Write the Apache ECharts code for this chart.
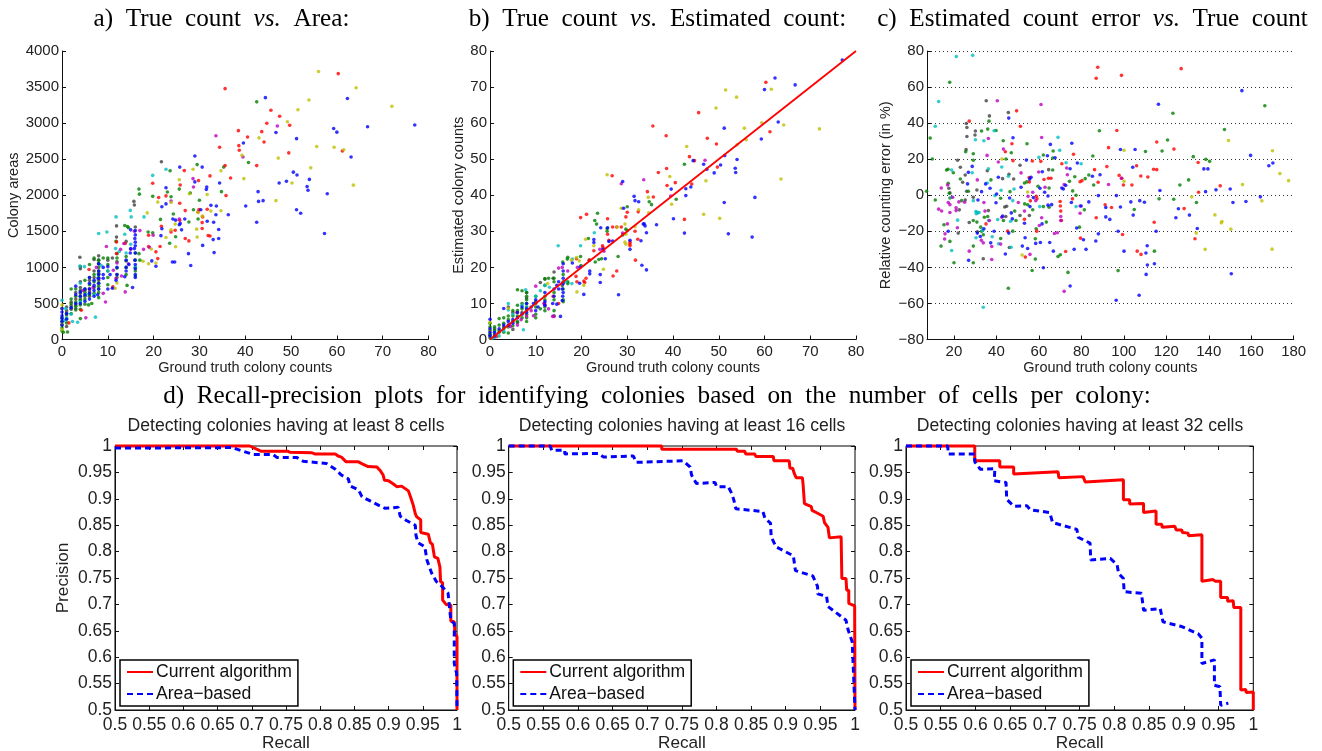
<!DOCTYPE html>
<html><head><meta charset="utf-8">
<script src="https://cdn.jsdelivr.net/npm/echarts@6/dist/echarts.min.js"></script>
<style>html,body{margin:0;padding:0;background:#fff}#c{width:1322px;height:751px}</style>
</head><body><div id="c"></div>
<script>
// Panel a: true count vs area
const aBlue=[[44.4,3353],[62.3,3342],[77,2975],[66.7,2950],[59.3,2925],[60,2875],[46.7,2870],[51.2,2785],[39.6,2725],[63.1,2530],[29,2545],[25.7,2390],[30.6,2390],[50.5,2320],[51.3,2280],[54,2220],[49,2195],[47.4,2170],[34.4,2170],[29,2185],[22.7,2105],[31.6,2115],[31.5,2080],[53.5,2120],[53.7,2070],[42.8,2050],[57.9,2020],[42.9,1915],[43.9,1925],[40.1,1850],[21.8,1840],[32.5,1860],[33.7,1850],[22.7,1880],[51.2,1800],[52.1,1750],[30.3,1800],[33.6,1730],[36.3,1730],[42.5,1625],[24.2,1670],[24.8,1655],[26.8,1670],[25.6,1590],[25.8,1610],[31.7,1640],[33.1,1625],[34.2,1525],[26.1,1520],[21.8,1535],[21.6,1440],[57.3,1470],[34.2,1400],[33,1385],[30.7,1305],[33.2,1205],[27.6,1190],[24.1,1075],[24.6,1075],[28.1,1025],[20.5,1015],[19.6,1090],[16,1510],[16,1450],[15.9,1400],[16,1350],[16,1300],[15.8,1260],[16,1200],[15.9,1100],[16,1040],[16,980],[16,900],[16,860],[15.4,720],[15,1520],[15,1260],[14.9,1200],[14.6,1040],[14,1100],[14,1000],[14,950],[13.7,870],[12,1000],[12,900],[11.8,820],[10.5,900],[10,1010],[9,1000],[9,900],[9,850],[8,1050],[8,950],[8,900],[8,850],[8,780],[8,700],[7.8,620],[7,820],[7,750],[7,680],[7,600],[6,860],[6,780],[6,700],[6,640],[6,560],[5,700],[5,620],[5,530],[4,660],[4,600],[4,500],[3,740],[3,620],[3,500],[2,440],[1,360],[1,280],[0,430],[0,380],[0,330],[0,290],[0,250],[0,200],[10,700],[11,710]];
const aGreen=[[42.5,3295],[40.7,2455],[23.6,2340],[29.5,2425],[35.3,2390],[16.8,2085],[16.9,2015],[19.8,1985],[34.8,2050],[28,2030],[25.6,2085],[23,2045],[23.8,1980],[30,1930],[28.7,1800],[24.3,1740],[21.5,1665],[29.7,1670],[27.7,1630],[13.7,1580],[14.3,1565],[18.8,1490],[19.8,1480],[24.8,1425],[23.5,1335],[11.8,1360],[8,1100],[8,1050],[8,1000],[8,950],[8,900],[8,860],[8,820],[8,780],[8,740],[8,700],[8,650],[8,580],[7,1130],[7,900],[7,800],[7,720],[7,640],[6,1040],[6,860],[6,760],[6,700],[6,620],[5,820],[5,700],[5,650],[5,560],[5,490],[4,680],[4,600],[4,540],[4,480],[4,420],[4,290],[3,700],[3,600],[3,520],[3,460],[3,410],[2,700],[2,560],[2,500],[2,440],[2,360],[1,360],[1,290],[1,230],[1.2,105],[0,300],[0,250],[0,200],[0,160],[0,120],[0.3,100],[10,1130],[10,1040],[10,950],[10,860],[10,760],[12,1190],[12,1130],[12,1080],[12,990],[12,900],[12,860],[14,1150],[14,1090],[14,1000],[14,900],[14.2,750],[16,1200],[16,1100],[16,1000],[16,950],[16,880],[17,1100],[16.8,1190],[14.5,1550],[9,1130],[6.5,500],[5.8,480]];
const aRed=[[35.6,3478],[60.3,3686],[45.6,3178],[47.5,3095],[44.7,2998],[49.7,2970],[38.5,2896],[43.6,2882],[40.5,2808],[44.1,2739],[38.6,2688],[34.4,2665],[38.7,2624],[49.5,2587],[61.2,2614],[42.5,2411],[35.6,2411],[36.8,2240],[32.3,2268],[26.7,2342],[29.8,2203],[19.8,2166],[25.8,2143],[22.7,1991],[21.1,1968],[35.8,1995],[25.7,1889],[26.9,1787],[29.9,1801],[31.7,1806],[29.7,1769],[30.7,1700],[30.6,1621],[21.7,1570],[30.6,1538],[24.7,1515],[23.8,1492],[25.7,1654],[31.9,1441],[32.3,1436],[18.9,1446],[26.9,1400],[27.7,1367],[21.4,1289],[18.9,1289],[20.5,1215],[20.9,1122],[13.8,1330],[11.9,1353],[11.9,1192],[5.9,970],[4.2,406],[11.1,730],[1.5,230]];
const aCyan=[[22.7,2360],[19.8,2275],[11.8,1700],[14.9,1790],[15.1,1700],[17.9,1700],[8,1470],[9.8,1490],[13.7,1460],[7.3,310],[3.4,240],[2.3,250],[0,545],[0.8,430],[3.9,1020],[4,780],[4.9,1010],[11.7,1260],[12.5,1220],[10,950],[7.8,850],[7,620],[5.2,620],[4,520],[2,350],[1,300],[0.5,260],[14,1200],[15,1320],[16,1000],[8.5,1030]];
const aMagenta=[[33.6,2825],[47,2960],[39.5,2530],[28.6,2230],[28.7,2115],[23.8,1920],[25.6,1670],[19.9,1445],[19.1,1275],[15.8,1500],[17,1510],[17.8,1250],[9.7,1290],[9.5,520],[5.2,300],[13.8,660],[13.5,1330],[12.8,1250],[15,1250],[11.8,850],[11.2,960],[13,880],[9,640],[6.8,720],[7.5,1000],[8,840],[14.5,1050],[12,1060],[6,700],[4.5,680]];
const aYellow=[[56,3715],[64.2,3490],[72,3235],[53.9,3320],[51.5,3185],[49.2,3020],[43,2795],[39.3,2555],[55.6,2675],[59.4,2665],[61.5,2630],[47.2,2515],[54.3,2380],[34.7,2340],[39.7,2230],[50.2,2170],[25.6,2215],[28.6,2360],[63.6,2140],[31.7,2010],[27.8,2020],[46.7,1925],[20.9,1905],[23.8,1900],[18.6,1755],[32.5,1780],[34.7,1785],[30.6,1710],[29.7,1760],[24.7,1600],[23.8,1520],[29.4,1530],[29.5,1420],[22.7,1415],[24.8,1285],[19.5,1255],[17.7,1085],[18.9,1050],[20.5,1060],[12,785],[11.6,710],[0,480],[0,430],[0,220],[0,140]];
const aGray=[[3.9,1140],[8,1160],[8,1100],[8,1050],[11.9,1575],[11.9,1420],[15.7,1915],[15.8,1865],[21.7,2465],[7,1110],[4,1010],[4,980],[4,800],[4,720],[4,640],[4,560],[3,650],[3,560],[3,480],[3,430],[2,520],[2,470],[2,420],[1,450],[1,400],[1,340],[1,180],[5,600],[5,680],[6,600],[6,660],[6,820],[7,950],[7,860],[10,1100],[11,1130],[16,1560],[8,920],[14,1360]];
// Panel b: true count vs estimated count
const bBlue=[[77,77.5],[62.3,72.5],[66.7,70.6],[60,69.3],[63,60.3],[51.2,58.6],[59.3,55.6],[44.4,49.6],[46.7,48.6],[47.4,47.2],[49,46.2],[50.4,48.4],[51.3,51],[53.6,47.5],[53.7,46.3],[54,49.9],[29,43.8],[42.8,41.8],[43.9,42.3],[42.8,39.9],[39.6,41.7],[40.1,33.5],[42.5,29.5],[51.2,38],[52.1,29.3],[57.3,28.4],[57.9,39.4],[31.5,39.7],[31.7,38.5],[32.5,38.2],[29.2,36.4],[33.7,32.1],[33.5,32],[33.9,31.5],[36.4,31.8],[30.6,27.5],[30.6,25],[33,27.4],[34.2,29.6],[24.2,31],[25.7,31],[22.7,27.7],[22.7,26.9],[26,27.2],[26.8,27.3],[24.7,25],[25.2,22.4],[21.8,19],[21.8,18.2],[24.1,18],[24.1,15.8],[20.5,12.5],[19.6,15.6],[19.7,20.1],[28.1,12.4],[33.2,20.6],[34.2,19.3],[18,21.2],[16,21],[16,19],[16,17],[16,15.5],[15.8,14],[16,13],[15.9,12],[15.8,10.8],[15.4,6.4],[15,14],[15,16],[14.6,15],[14,14],[14,12],[14.6,9.8],[13.7,10],[12,13],[12,10.5],[12,9.5],[10.5,9],[10,11],[10,8],[9.5,10],[9,9],[8,10],[8,8.5],[8,7.5],[7,7],[7,9],[6,6],[6,7.5],[5,5.5],[5,4.5],[4,5],[4,4],[3,8.6],[3,4],[2,3],[1,2],[0,5.6],[0,3],[0,2],[0,1],[1,1]];
const bGreen=[[42.5,48.6],[40.7,38.9],[35.3,37.4],[34.8,38.2],[30,36.8],[30,30.2],[23.5,35],[22.9,33],[23.3,32],[21.5,28],[25.6,30.8],[25.6,30],[23,21.5],[23.8,22.2],[24.4,22.4],[28,23],[29,29],[29.7,30.6],[17,22.8],[16.9,22.3],[19.8,23],[19.9,20.5],[15.9,21.5],[14,17],[12.8,17],[12,16.8],[14,16],[6,13.8],[7,13.5],[8,13],[8,12],[8,11],[8,10],[8,9],[8,8],[8,7],[8,6],[8,5],[7,10],[7,8.5],[7,6],[6,9.5],[6,8],[6,6.5],[6,5],[5,8],[5,6.5],[5,5],[5,3.8],[4,6.5],[4,5.5],[4,3.5],[4,1.8],[3,6],[3,4.5],[3,3],[3,2],[2,5.8],[2,4],[2,2.5],[1,3.5],[1,2.5],[1,1.5],[0,4.5],[0,3.5],[0,2.5],[0,1.5],[0,0.5],[10,12],[10,10],[10,9],[10,7],[10,6],[12,15],[12,12],[12,11],[12,8],[12,9],[14,13],[14,11],[14,8],[14,6.6],[16,16],[16,14],[16,11],[16,10.5],[16,18],[17,16],[17,15.5],[11,8.5]];
const bRed=[[60.3,71.3],[45.6,62.9],[35.6,59.2],[38.5,56.5],[47.5,55.8],[49.5,54.2],[43.6,50.7],[44.7,49.6],[38.6,47.4],[36.8,46.3],[26.7,45.4],[49.7,47.8],[38.7,42.7],[40.5,43.5],[44.1,43.1],[34.4,41],[35.7,39.5],[61.2,57.6],[42.5,33.3],[21.1,34.7],[19.8,33.8],[25.7,33.5],[30,35.3],[29.7,34],[32.4,35.4],[26.8,31.2],[27.7,31.2],[28.7,31.2],[30.6,26.5],[30.6,26],[31.7,30],[32.3,27.8],[30.6,27],[25.7,29.2],[26,27.5],[24.6,26],[24.7,25.5],[22.7,24.6],[26.9,17.6],[27.7,19],[31.8,22],[21,17],[20.5,16.2],[20.7,15.8],[18.8,17.5],[21.7,22],[18.9,22.4],[19,16],[11.9,10],[15,10],[13.8,12],[5.9,7.5],[4.2,4],[1.5,0.8]];
const bCyan=[[14.9,26],[22.8,29.6],[19.8,26],[18,22.3],[7.3,2.7],[7.8,13.8],[12,15],[4,10],[10,12],[8,9],[5,7],[4,8.2],[3,2.3],[2,1],[1,0.6],[0.5,0.3],[13,14.5],[11,13.5],[7,9.5],[16.6,16],[17.9,15.5]];
const bMagenta=[[33.6,44.3],[28.7,43.2],[47,49.7],[39.5,39.8],[29,29.5],[24,25],[24.9,24.5],[19.1,20],[15.8,20],[17,19],[13.7,6.4],[9.5,6.6],[12.8,8.5],[10,14.8],[14,6.4],[11.8,10],[9,8],[6.8,5.5],[15,19.8],[8,6.5],[12,9.6],[4.5,3.6],[6,4]];
const bYellow=[[61.5,69.4],[51.5,69.2],[53.9,67.2],[49.4,64.2],[59.4,60.1],[55.6,58.6],[64.2,59.5],[72,58.4],[56,55.4],[54,54],[43,53.5],[39.3,45.2],[25.6,45.7],[47.2,44],[63.6,44.5],[34.6,39.4],[28.7,36.4],[32.5,36],[34.7,35.1],[39.7,37.5],[46.7,34.7],[50.2,33.6],[27.8,31.2],[29.5,32],[29.7,29.2],[29.5,27],[29.7,26.4],[31.7,31.3],[20.9,27.8],[22.7,26],[24.8,19.5],[19.5,21.8],[20.5,15],[18.9,22.7],[17.8,22],[19,13.2],[12.6,15.5],[4,8.6],[0,4.8],[0,2.6]];
const bGray=[[21.7,22],[14,18.7],[12,16.8],[8,13],[13.8,17],[8,11.5],[7,7.5],[5,7.5],[4,9],[3,3.5],[2,2],[1,3],[1,0.8],[0,1.2],[5,2.8],[6,4.7],[10,10.5],[15.8,15],[11,15.8]];
// Panel c: relative error vs true count
const cBlue=[[155.6,58],[116.3,50.5],[45.8,42.8],[47.8,31.9],[75.5,28.8],[65.4,28.2],[98.4,25.4],[105.3,25.4],[159.7,22.1],[104.2,15.5],[67.6,20.8],[64,21.9],[168.3,16.4],[170.2,17.9],[137.7,14.6],[139.6,14.6],[78.1,17.9],[74.7,14.7],[88.8,11.4],[85.2,10.5],[56.3,10],[54.1,19.5],[28.6,16],[26.8,12.7],[26.4,6.3],[34.9,6.3],[40.9,10],[55.7,9],[61.6,13],[33,2],[31.3,-2.6],[37,3.9],[40.1,0.7],[39.8,-4.2],[46.2,-1.5],[51.6,4.4],[57.4,-1.3],[60.5,3.9],[62.7,1.7],[64.3,-0.4],[70.8,4],[71.5,3.5],[72.6,5.5],[75.3,-4],[79.9,-6],[88,-0.2],[83.5,-3.7],[91.5,-6.8],[96.5,-0.2],[98.4,-6.5],[103.3,-3.7],[107.5,-3],[109.7,-3.9],[117,2.6],[138.5,2],[143.4,3],[150.1,3.5],[151.4,-4],[157.5,-3.5],[164.3,-0.9],[125.7,-7.5],[124.5,-12.5],[130.9,-11],[134.6,-18.4],[104.4,-11],[93.4,-13.4],[91.5,-12],[88,-21.4],[77.8,-18.2],[97.3,-20],[115.2,-20],[111,-28],[110.4,-32],[111.1,-38.7],[110.5,-43.9],[114.4,-38],[107.2,-55.5],[96.4,-58.2],[74.7,-50.3],[150.6,-43.5],[100.1,-31],[86.8,-25.4],[82.2,-30],[76.6,-30],[81,-24.7],[66.8,-31],[65.1,-26.2],[62.1,-40.2],[60.7,-26.2],[58.5,-26.7],[54.7,-29.5],[53.5,-23.6],[52.2,-28.2],[53.2,-15.5],[61.5,-15.9],[47.5,-13.1],[47,-9.8],[45.8,-21],[44.2,-32.6],[42.9,-11.6],[37.3,-26.4],[38.9,-20],[34.1,-18.6],[32.4,-22.9],[31,-21],[26.9,-36.1],[17.3,-20],[66,-5.2],[64.3,-5.5],[55.8,-6.3]];
const cGreen=[[166.4,49.6],[123.1,45.5],[18,62.7],[8.8,31.7],[9.8,20.1],[7.1,2.2],[11.2,-2.6],[13.9,-28.2],[20,-37.4],[29.1,-37.4],[29.1,-28.2],[18.1,-25.6],[15.3,-16.4],[16.5,14],[17.2,14.4],[17.3,6.6],[17.8,1.1],[18.1,-1.5],[19.7,12.5],[23,9],[25.5,24.1],[29.1,23],[29.1,19.4],[35.9,36.7],[33,35.6],[36.5,41.1],[39.8,35.9],[43.2,30.2],[44.5,20.1],[47,23.6],[54.4,28.6],[62.1,22.3],[66.7,24.5],[66.5,20.6],[88.5,35.8],[85.4,21.8],[110.2,24.3],[118,24.5],[120.6,30.6],[147.4,36.5],[132.7,21.4],[138.6,19.9],[140.4,18.8],[126.4,5.7],[130.5,8.5],[85.8,5.7],[83.5,11.2],[81.8,9.2],[76.9,10.3],[74.4,7.7],[75.9,2.4],[77.5,0],[66.5,14],[59.6,5],[64.8,4],[53.2,6.8],[54.3,7.4],[37.4,8.5],[26.8,2.2],[23.6,-3],[42,-1.7],[46.4,2],[53.3,-4.8],[54.7,-5.3],[57.1,-8],[62.1,-6.3],[64.8,-6.6],[81.4,-8.1],[104.9,-7.9],[116.6,-2],[123.5,-2.2],[134.2,-4],[79.1,-17.7],[63.5,-14.9],[48.6,-8.8],[43.3,-14],[35.9,-11.8],[34.3,-12.2],[29.1,-14],[30.8,-14.9],[32.6,-17.7],[33,-20],[33.8,-21.9],[42,-24],[47.7,-19.9],[49.2,-14],[58.7,-18.6],[58.3,-24.1],[58.3,-35.4],[56.8,-41.7],[69,-34],[70.1,-33],[73.7,-42.8],[97.3,-41.8],[114.4,-31],[45.6,-51.6]];
const cRed=[[87.7,71],[87,64.9],[98.9,66.5],[127,70.2],[27.2,41.1],[49.5,46.8],[51.3,38.2],[96.7,35.9],[115.5,29.5],[47.3,28.6],[92.8,26.4],[123.6,25.6],[76.3,22.7],[44.2,24.1],[47.8,19.2],[60.9,18.8],[56.9,19],[70.8,17.5],[92,15.9],[106,16.4],[135,18.2],[114,14.4],[115.5,14.2],[86.2,14.2],[108,10.7],[111.3,10.1],[97.8,11],[99,9.4],[87.9,7.2],[79.4,7.5],[80.3,8.1],[62.4,8.7],[64.5,9.4],[65.7,9.4],[55.4,9.8],[55.5,7.4],[99.8,5.7],[103.8,5.7],[145.4,5.2],[135.2,1.7],[58.8,-0.6],[59.1,-2],[56,-3.1],[75.8,-2],[70,-3.5],[70.1,-6],[91.2,-5.3],[94.2,-6.8],[128.4,-7.4],[70.3,-8.8],[87,-12.5],[53.2,-13.3],[70.6,-14],[114.3,-15],[35.1,-15.9],[45.3,-19.9],[59,-19.9],[99.4,-21.8],[133.5,-24.1],[79.6,-23.8],[53.6,-34.3],[72.6,-31.2],[106.3,-31],[108.1,-32.8]];
const cCyan=[[21.1,76.9],[28.8,77.6],[12.8,52],[11.2,38.3],[38.9,35.8],[30.1,30.8],[34.1,30.2],[69,32.1],[69.8,24.9],[60,21],[42.5,15.7],[36.2,14.6],[18.9,14],[28.6,12.5],[45.6,10.5],[48.3,3.5],[42.2,2.8],[79.9,17.5],[72.8,18],[39.3,-0.2],[29.1,-3],[47.7,-3],[60.4,-6.3],[77.5,-6.3],[21.7,-13.8],[40.6,-13.5],[46.7,-14.4],[30.3,-9],[30.9,-9.4],[31.2,-9.8],[30.5,-10.3],[31.8,-9.6],[18.9,-30.6],[30.4,-23.6],[38,-23],[41,-26.9],[46.9,-28.8],[36.3,-14],[33.8,-62.1],[33.5,-19.5],[35.7,6.8],[18.9,-1.1]];
const cMagenta=[[40.4,52.4],[61,50.3],[61.3,32],[36.2,31.5],[43.3,25.6],[35.6,22.1],[40.9,18.4],[51.6,12.4],[59.9,12.9],[31,8.5],[14,4],[17,5.7],[19.4,-1.1],[22.3,-3.7],[25,-3.9],[12.8,-7.7],[14.2,-8.7],[17.3,-4],[18.1,-5.2],[21,-7],[21,-8.5],[18.1,-9.6],[16.9,-15.9],[15.8,-21.4],[15.6,-24.3],[21.6,-18],[27.2,-31],[32.9,-25],[33.8,-26.4],[34.6,-8.8],[36.7,-14],[37.8,-35.6],[37.8,-28.4],[42,-27.1],[34.1,-4],[42.5,-12.2],[50.3,-4],[54.9,-0.6],[57.1,1.7],[53.2,-8.8],[58.5,-3],[61.3,-12.5],[62.9,4.4],[60.2,-16.8],[71.9,5.9],[73.1,15.1],[73.4,11.4],[70.3,-11.8],[70.3,-14],[67.3,-21.2],[68.7,-20.8],[71.9,-53.3],[55.8,-32.8],[79.4,-6],[79.4,-10],[92.8,6],[98.9,9.4]];
const cYellow=[[149.3,30.4],[170,24.7],[173.5,12],[177.6,8.1],[100.1,24.9],[100.1,7.7],[42.6,20.1],[54.7,1.8],[155.9,5.9],[132,-0.9],[165,-3.1],[142.9,-10.9],[146.2,-14.6],[145.9,-15.3],[150.4,-18.8],[134.1,-21],[138.3,-30],[169.8,-29.9],[52.1,-33.2]];
const cGray=[[35.2,52.4],[36.7,44],[45.6,45.9],[25.8,39.8],[26.1,37.6],[30.1,35.6],[29.9,33.4],[26.1,32.6],[25.7,25.3],[21.7,19.4],[23,15.5],[25.3,11.2],[35.7,13.6],[51.1,16.6],[45.9,11.6],[48.1,9],[42.9,9.2],[64.6,14.2],[17.6,3.9],[18.1,1.3],[24.1,7.2],[26,2.2],[30.8,2.9],[25.3,-2.6],[22.5,-8.1],[36.2,-8.5],[43.9,-6.5],[44.8,-6.1],[51.1,-11.2],[44.4,-11.8],[27.2,-15.1],[22,-21],[31,-20.3],[33.8,-35.2],[46.1,-29],[55.5,-11.2],[29.1,-1.1]];
const diagonal=[[0,0],[80,80]];
// Panels d: recall-precision curves
const d8Current=[[0.5,1],[0.697,1],[0.707,0.994],[0.714,0.99],[0.753,0.99],[0.756,0.988],[0.788,0.987],[0.792,0.985],[0.822,0.985],[0.826,0.981],[0.831,0.979],[0.838,0.97],[0.856,0.97],[0.863,0.965],[0.87,0.961],[0.883,0.96],[0.888,0.953],[0.892,0.945],[0.894,0.935],[0.9,0.934],[0.907,0.928],[0.912,0.923],[0.919,0.924],[0.929,0.915],[0.932,0.904],[0.936,0.888],[0.939,0.872],[0.941,0.866],[0.947,0.86],[0.947,0.836],[0.958,0.833],[0.961,0.817],[0.964,0.814],[0.967,0.79],[0.972,0.787],[0.975,0.771],[0.976,0.743],[0.979,0.741],[0.979,0.708],[0.984,0.7],[0.991,0.699],[0.991,0.668],[0.996,0.667],[0.997,0.645],[1,0.639],[1,0.5]];
const d8Area=[[0.5,0.996],[0.673,0.997],[0.678,0.994],[0.69,0.989],[0.702,0.984],[0.731,0.984],[0.737,0.978],[0.766,0.978],[0.775,0.971],[0.809,0.967],[0.822,0.956],[0.831,0.945],[0.841,0.938],[0.844,0.924],[0.856,0.917],[0.861,0.904],[0.873,0.896],[0.885,0.888],[0.895,0.882],[0.914,0.884],[0.917,0.867],[0.926,0.859],[0.939,0.85],[0.94,0.831],[0.943,0.817],[0.953,0.809],[0.956,0.784],[0.963,0.759],[0.97,0.743],[0.978,0.734],[0.987,0.721],[0.991,0.669],[0.996,0.664],[0.996,0.588],[0.9995,0.569],[1,0.5]];
const d16Current=[[0.5,1],[0.721,1],[0.721,0.994],[0.829,0.994],[0.83,0.99],[0.841,0.99],[0.842,0.985],[0.855,0.985],[0.857,0.98],[0.882,0.98],[0.883,0.972],[0.905,0.972],[0.906,0.958],[0.91,0.958],[0.912,0.949],[0.915,0.94],[0.924,0.94],[0.925,0.928],[0.927,0.926],[0.927,0.891],[0.937,0.885],[0.938,0.878],[0.944,0.874],[0.954,0.867],[0.956,0.855],[0.961,0.846],[0.963,0.826],[0.98,0.828],[0.981,0.749],[0.987,0.749],[0.988,0.727],[0.991,0.727],[0.991,0.702],[0.9995,0.697],[1,0.5]];
const d16Area=[[0.5,1],[0.56,1],[0.562,0.992],[0.581,0.992],[0.581,0.985],[0.629,0.986],[0.637,0.979],[0.68,0.981],[0.684,0.969],[0.752,0.972],[0.762,0.96],[0.764,0.945],[0.771,0.929],[0.798,0.931],[0.8,0.923],[0.817,0.923],[0.822,0.91],[0.825,0.898],[0.828,0.881],[0.867,0.876],[0.87,0.863],[0.878,0.854],[0.879,0.828],[0.886,0.809],[0.911,0.792],[0.914,0.764],[0.939,0.754],[0.946,0.734],[0.946,0.72],[0.959,0.715],[0.961,0.696],[0.98,0.677],[0.987,0.67],[0.99,0.652],[0.996,0.629],[1,0.5]];
const d32Current=[[0.5,1],[0.599,1],[0.599,0.972],[0.635,0.972],[0.635,0.96],[0.655,0.96],[0.655,0.947],[0.719,0.951],[0.72,0.94],[0.755,0.942],[0.758,0.932],[0.813,0.936],[0.813,0.898],[0.822,0.898],[0.822,0.89],[0.842,0.891],[0.842,0.874],[0.86,0.877],[0.86,0.852],[0.868,0.852],[0.869,0.846],[0.887,0.848],[0.889,0.841],[0.897,0.841],[0.898,0.836],[0.906,0.835],[0.907,0.83],[0.926,0.832],[0.926,0.744],[0.942,0.747],[0.945,0.744],[0.953,0.744],[0.953,0.713],[0.963,0.713],[0.963,0.706],[0.971,0.707],[0.972,0.694],[0.982,0.694],[0.982,0.538],[0.989,0.539],[0.99,0.533],[1,0.534],[1,0.5]];
const d32Area=[[0.5,1],[0.56,1],[0.561,0.985],[0.599,0.985],[0.599,0.97],[0.607,0.956],[0.628,0.957],[0.627,0.934],[0.644,0.931],[0.645,0.899],[0.655,0.886],[0.674,0.887],[0.679,0.879],[0.707,0.874],[0.711,0.855],[0.746,0.842],[0.748,0.827],[0.765,0.816],[0.766,0.784],[0.794,0.787],[0.804,0.775],[0.806,0.759],[0.813,0.749],[0.814,0.724],[0.839,0.721],[0.842,0.689],[0.844,0.686],[0.866,0.692],[0.87,0.667],[0.897,0.658],[0.921,0.644],[0.926,0.636],[0.926,0.588],[0.944,0.595],[0.944,0.547],[0.952,0.544],[0.953,0.509],[0.964,0.513]];
const countTicksC=[20,40,60,80,100,120,140,160,180];
const CUR='Current algorithm', AREA='Area\u2212based';
const cols={b:'#0000ff',g:'#008000',r:'#ff0000',c:'#00bfbf',m:'#bf00bf',y:'#bfbf00',k:'#404040'};

const AXC='#111';
const SANS='"Liberation Sans",Arial,sans-serif', SERIF='"Liberation Serif","Times New Roman",serif';
const B={outerBoundsMode:'none'};
const grid=[
 {left:62,top:51,width:366.5,height:288.5,...B},
 {left:490,top:51,width:366,height:288.5,...B},
 {left:927,top:51,width:366.7,height:288.5,...B},
 {left:115,top:446,width:342,height:264,show:true,borderColor:'#000',borderWidth:1,...B},
 {left:508.7,top:446,width:346.3,height:264,show:true,borderColor:'#000',borderWidth:1,...B},
 {left:906,top:446,width:347.3,height:264,show:true,borderColor:'#000',borderWidth:1,...B}
];
function ax(gi,o){
 const fs=o.fs||15;
 return Object.assign({type:'value',gridIndex:gi,
  axisLine:{show:true,onZero:false,lineStyle:{color:AXC,width:1}},
  axisTick:{show:true,inside:true,length:4,lineStyle:{color:AXC,width:1}},
  axisLabel:{show:true,color:'#222',fontFamily:SANS,fontSize:fs,margin:o.margin||5,hideOverlap:false,showMinLabel:true,showMaxLabel:true,
    formatter:v=>String(+v.toFixed(2)).replace('-','\u2212')},
  splitLine:{show:false},
  nameLocation:'middle',nameTextStyle:{color:'#222',fontFamily:SANS,fontSize:o.nfs||14.5}},o.x);
}
const xAxis=[
 ax(0,{x:{min:0,max:80,interval:10,name:'Ground truth colony counts',nameGap:21}}),
 ax(1,{x:{min:0,max:80,interval:10,name:'Ground truth colony counts',nameGap:21}}),
 ax(2,{x:{min:7.3,max:180,name:'Ground truth colony counts',nameGap:21}}),
];
xAxis[2].axisTick.customValues=countTicksC; xAxis[2].axisLabel.customValues=countTicksC;
const yAxis=[
 ax(0,{margin:3,x:{min:0,max:4000,interval:500,name:'Colony areas',nameGap:40}}),
 ax(1,{margin:3,x:{min:0,max:80,interval:10,name:'Estimated colony counts',nameGap:24}}),
 ax(2,{margin:3,x:{min:-80,max:80,interval:20,name:'Relative counting error (in %)',nameGap:34,
   splitLine:{show:true,lineStyle:{color:'#333',type:[1,3],width:1}}}}),
];
[3,4,5].forEach((g,i)=>{
 xAxis.push(ax(g,{fs:17.5,nfs:17.2,margin:6,x:{min:0.5,max:1,interval:0.05,name:'Recall',nameGap:25}}));
 yAxis.push(ax(g,{fs:17.5,nfs:17.2,margin:3,x:{min:0.5,max:1,interval:0.05,name:i===0?'Precision':'',nameGap:43}}));
});
[3,4,5].forEach(g=>{
 xAxis.push({type:'value',gridIndex:g,position:'top',min:0.5,max:1,interval:0.05,axisLine:{show:false},axisTick:{show:true,inside:true,length:4,lineStyle:{color:AXC}},axisLabel:{show:false},splitLine:{show:false}});
 yAxis.push({type:'value',gridIndex:g,position:'right',min:0.5,max:1,interval:0.05,axisLine:{show:false},axisTick:{show:true,inside:true,length:4,lineStyle:{color:AXC}},axisLabel:{show:false},splitLine:{show:false}});
});
const series=[];
function dots(i,sets){sets.forEach(([arr,c])=>series.push({type:'scatter',xAxisIndex:i,yAxisIndex:i,data:arr,symbol:'circle',symbolSize:3.6,itemStyle:{color:cols[c]},silent:true,clip:false,animation:false}));}
dots(0,[[aGray,'k'],[aGreen,'g'],[aRed,'r'],[aCyan,'c'],[aMagenta,'m'],[aYellow,'y'],[aBlue,'b']]);
dots(1,[[bGray,'k'],[bGreen,'g'],[bRed,'r'],[bCyan,'c'],[bMagenta,'m'],[bYellow,'y'],[bBlue,'b']]);
dots(2,[[cGray,'k'],[cGreen,'g'],[cRed,'r'],[cCyan,'c'],[cMagenta,'m'],[cYellow,'y'],[cBlue,'b']]);
series.push({type:'line',xAxisIndex:1,yAxisIndex:1,data:diagonal,symbol:'none',silent:true,clip:false,z:5,lineStyle:{color:'#ff0000',width:1.8},animation:false});
[[3,d8Current,d8Area],[4,d16Current,d16Area],[5,d32Current,d32Area]].forEach(([i,cur,ar])=>{
 series.push({type:'line',name:CUR,xAxisIndex:i,yAxisIndex:i,data:cur,symbol:'none',silent:true,clip:false,lineStyle:{color:'#ff0000',width:3},itemStyle:{color:'#ff0000'},animation:false});
 series.push({type:'line',name:AREA,xAxisIndex:i,yAxisIndex:i,data:ar,symbol:'none',silent:true,clip:false,lineStyle:{color:'#0000ff',width:3,type:[6,4]},itemStyle:{color:'#0000ff'},animation:false});
});
const legendAt=l=>({left:l,top:660,orient:'vertical',padding:[3,6,3,6],itemWidth:26,itemHeight:17,itemGap:4,selectedMode:false,
 data:[CUR,AREA],backgroundColor:'#fff',borderColor:'#000',borderWidth:1.5,z:10,
 itemStyle:{color:'rgba(0,0,0,0)',opacity:0,borderWidth:0},
 textStyle:{color:'#111',fontFamily:SANS,fontSize:17.6,padding:[0,0,0,-2]}});
const serifRich={i:{fontFamily:SERIF,fontSize:25.2,fontStyle:'italic',color:'#000'}};
const bigTitle=(txt,x,y)=>({text:txt,left:x,top:y,textAlign:'center',padding:0,textStyle:{fontFamily:SERIF,fontSize:25.2,fontWeight:'normal',color:'#000',rich:serifRich}});
const subTitle=(txt,x)=>({text:txt,left:x,top:417,textAlign:'center',padding:0,textStyle:{fontFamily:SANS,fontSize:17.6,fontWeight:'normal',color:'#222'}});
const WS='\u2002';
const title=[
 bigTitle('a)'+WS+'True'+WS+'count'+WS+'{i|vs.}'+WS+'Area:',221.5,7),
 bigTitle('b)'+WS+'True'+WS+'count'+WS+'{i|vs.}'+WS+'Estimated'+WS+'count:',657.5,7),
 bigTitle('c)'+WS+'Estimated'+WS+'count'+WS+'error'+WS+'{i|vs.}'+WS+'True'+WS+'count',1092.5,7),
 bigTitle('d)'+WS+'Recall-precision'+WS+'plots'+WS+'for'+WS+'identifying'+WS+'colonies'+WS+'based'+WS+'on'+WS+'the'+WS+'number'+WS+'of'+WS+'cells'+WS+'per'+WS+'colony:',657,384),
 subTitle('Detecting colonies having at least 8 cells',286),
 subTitle('Detecting colonies having at least 16 cells',682),
 subTitle('Detecting colonies having at least 32 cells',1080)
];
const chart=echarts.init(document.getElementById('c'),null,{renderer:'canvas'});
chart.setOption({animation:false,backgroundColor:'#fff',title,grid,xAxis,yAxis,series,legend:[legendAt(120),legendAt(513.3),legendAt(911)]});
</script></body></html>
